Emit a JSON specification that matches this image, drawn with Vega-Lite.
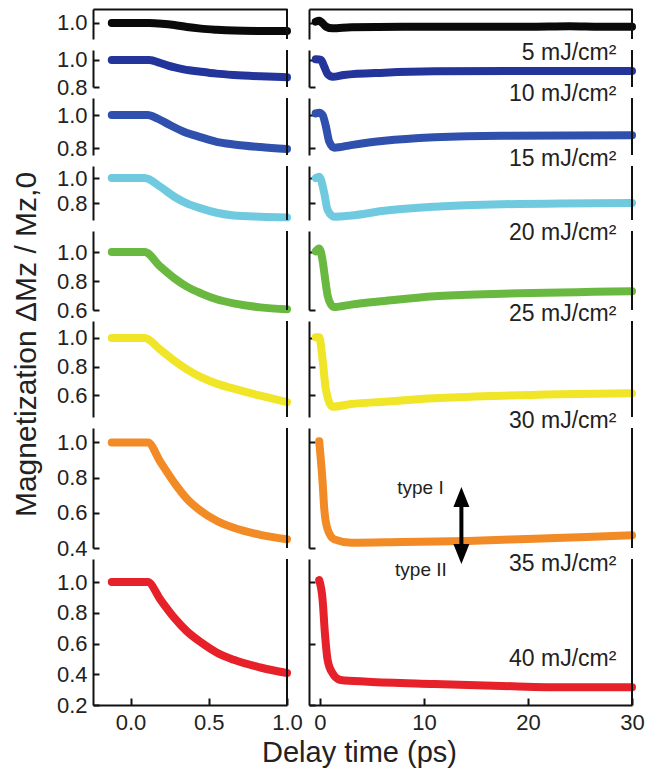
{
  "$schema": "https://vega.github.io/schema/vega-lite/v6.json",
  "padding": {"left": 10, "top": 8, "right": 5, "bottom": 5},
  "config": {
    "view": {"stroke": null},
    "font": "Liberation Sans",
    "axis": {
      "grid": false, "domainColor": "#111", "domainWidth": 2,
      "tickColor": "#111", "tickWidth": 2, "tickSize": -6,
      "labelFont": "Liberation Sans", "labelFontSize": 22, "labelColor": "#222",
      "labelFlush": false, "labelOverlap": false,
      "titleFont": "Liberation Sans", "titleFontWeight": "normal", "titleColor": "#222", "titleFontSize": 30
    },
    "line": {"strokeWidth": 8, "strokeCap": "round", "strokeJoin": "round", "interpolate": "monotone"}
  },
  "data": {"values": [
    {"fluence": 5, "range": "short", "time": -0.12, "m": 1.0},
    {"fluence": 5, "range": "short", "time": 0.0, "m": 1.0},
    {"fluence": 5, "range": "short", "time": 0.12, "m": 1.0},
    {"fluence": 5, "range": "short", "time": 0.2, "m": 0.995},
    {"fluence": 5, "range": "short", "time": 0.28, "m": 0.985},
    {"fluence": 5, "range": "short", "time": 0.36, "m": 0.97},
    {"fluence": 5, "range": "short", "time": 0.45, "m": 0.958},
    {"fluence": 5, "range": "short", "time": 0.55, "m": 0.95},
    {"fluence": 5, "range": "short", "time": 0.66, "m": 0.944},
    {"fluence": 5, "range": "short", "time": 0.83, "m": 0.941},
    {"fluence": 5, "range": "short", "time": 1.0, "m": 0.94},
    {"fluence": 10, "range": "short", "time": -0.12, "m": 1.0},
    {"fluence": 10, "range": "short", "time": 0.0, "m": 1.0},
    {"fluence": 10, "range": "short", "time": 0.12, "m": 1.0},
    {"fluence": 10, "range": "short", "time": 0.19, "m": 0.978},
    {"fluence": 10, "range": "short", "time": 0.24, "m": 0.958},
    {"fluence": 10, "range": "short", "time": 0.34, "m": 0.931},
    {"fluence": 10, "range": "short", "time": 0.45, "m": 0.913},
    {"fluence": 10, "range": "short", "time": 0.55, "m": 0.899},
    {"fluence": 10, "range": "short", "time": 0.66, "m": 0.889},
    {"fluence": 10, "range": "short", "time": 0.83, "m": 0.879},
    {"fluence": 10, "range": "short", "time": 1.0, "m": 0.872},
    {"fluence": 15, "range": "short", "time": -0.12, "m": 1.0},
    {"fluence": 15, "range": "short", "time": 0.0, "m": 1.0},
    {"fluence": 15, "range": "short", "time": 0.11, "m": 1.0},
    {"fluence": 15, "range": "short", "time": 0.17, "m": 0.98},
    {"fluence": 15, "range": "short", "time": 0.24, "m": 0.945},
    {"fluence": 15, "range": "short", "time": 0.34, "m": 0.899},
    {"fluence": 15, "range": "short", "time": 0.45, "m": 0.865},
    {"fluence": 15, "range": "short", "time": 0.55, "m": 0.838},
    {"fluence": 15, "range": "short", "time": 0.66, "m": 0.822},
    {"fluence": 15, "range": "short", "time": 0.83, "m": 0.806},
    {"fluence": 15, "range": "short", "time": 1.0, "m": 0.794},
    {"fluence": 20, "range": "short", "time": -0.12, "m": 1.0},
    {"fluence": 20, "range": "short", "time": 0.0, "m": 1.0},
    {"fluence": 20, "range": "short", "time": 0.09, "m": 1.0},
    {"fluence": 20, "range": "short", "time": 0.19, "m": 0.93},
    {"fluence": 20, "range": "short", "time": 0.28, "m": 0.85},
    {"fluence": 20, "range": "short", "time": 0.36, "m": 0.797},
    {"fluence": 20, "range": "short", "time": 0.45, "m": 0.757},
    {"fluence": 20, "range": "short", "time": 0.55, "m": 0.722},
    {"fluence": 20, "range": "short", "time": 0.66, "m": 0.7},
    {"fluence": 20, "range": "short", "time": 0.83, "m": 0.69},
    {"fluence": 20, "range": "short", "time": 1.0, "m": 0.685},
    {"fluence": 25, "range": "short", "time": -0.12, "m": 1.0},
    {"fluence": 25, "range": "short", "time": 0.0, "m": 1.0},
    {"fluence": 25, "range": "short", "time": 0.09, "m": 1.0},
    {"fluence": 25, "range": "short", "time": 0.19, "m": 0.9},
    {"fluence": 25, "range": "short", "time": 0.28, "m": 0.819},
    {"fluence": 25, "range": "short", "time": 0.36, "m": 0.761},
    {"fluence": 25, "range": "short", "time": 0.45, "m": 0.715},
    {"fluence": 25, "range": "short", "time": 0.55, "m": 0.674},
    {"fluence": 25, "range": "short", "time": 0.66, "m": 0.646},
    {"fluence": 25, "range": "short", "time": 0.83, "m": 0.618},
    {"fluence": 25, "range": "short", "time": 1.0, "m": 0.605},
    {"fluence": 30, "range": "short", "time": -0.12, "m": 1.0},
    {"fluence": 30, "range": "short", "time": 0.0, "m": 1.0},
    {"fluence": 30, "range": "short", "time": 0.09, "m": 1.0},
    {"fluence": 30, "range": "short", "time": 0.19, "m": 0.918},
    {"fluence": 30, "range": "short", "time": 0.28, "m": 0.84},
    {"fluence": 30, "range": "short", "time": 0.36, "m": 0.78},
    {"fluence": 30, "range": "short", "time": 0.45, "m": 0.725},
    {"fluence": 30, "range": "short", "time": 0.55, "m": 0.68},
    {"fluence": 30, "range": "short", "time": 0.66, "m": 0.645},
    {"fluence": 30, "range": "short", "time": 0.83, "m": 0.595},
    {"fluence": 30, "range": "short", "time": 1.0, "m": 0.55},
    {"fluence": 35, "range": "short", "time": -0.12, "m": 1.0},
    {"fluence": 35, "range": "short", "time": 0.0, "m": 1.0},
    {"fluence": 35, "range": "short", "time": 0.11, "m": 1.0},
    {"fluence": 35, "range": "short", "time": 0.19, "m": 0.89},
    {"fluence": 35, "range": "short", "time": 0.28, "m": 0.77},
    {"fluence": 35, "range": "short", "time": 0.36, "m": 0.68},
    {"fluence": 35, "range": "short", "time": 0.45, "m": 0.61},
    {"fluence": 35, "range": "short", "time": 0.55, "m": 0.555},
    {"fluence": 35, "range": "short", "time": 0.66, "m": 0.515},
    {"fluence": 35, "range": "short", "time": 0.83, "m": 0.475},
    {"fluence": 35, "range": "short", "time": 1.0, "m": 0.45},
    {"fluence": 40, "range": "short", "time": -0.12, "m": 1.0},
    {"fluence": 40, "range": "short", "time": 0.0, "m": 1.0},
    {"fluence": 40, "range": "short", "time": 0.11, "m": 1.0},
    {"fluence": 40, "range": "short", "time": 0.19, "m": 0.887},
    {"fluence": 40, "range": "short", "time": 0.28, "m": 0.767},
    {"fluence": 40, "range": "short", "time": 0.36, "m": 0.68},
    {"fluence": 40, "range": "short", "time": 0.45, "m": 0.608},
    {"fluence": 40, "range": "short", "time": 0.55, "m": 0.542},
    {"fluence": 40, "range": "short", "time": 0.66, "m": 0.494},
    {"fluence": 40, "range": "short", "time": 0.83, "m": 0.444},
    {"fluence": 40, "range": "short", "time": 1.0, "m": 0.408},

    {"fluence": 5, "range": "long", "time": -0.4, "m": 1.01},
    {"fluence": 5, "range": "long", "time": -0.07, "m": 1.017},
    {"fluence": 5, "range": "long", "time": 0.58, "m": 0.973},
    {"fluence": 5, "range": "long", "time": 1.2, "m": 0.96},
    {"fluence": 5, "range": "long", "time": 3.0, "m": 0.968},
    {"fluence": 5, "range": "long", "time": 8.0, "m": 0.972},
    {"fluence": 5, "range": "long", "time": 20.0, "m": 0.972},
    {"fluence": 5, "range": "long", "time": 24.0, "m": 0.976},
    {"fluence": 5, "range": "long", "time": 27.0, "m": 0.972},
    {"fluence": 5, "range": "long", "time": 30.0, "m": 0.972},
    {"fluence": 10, "range": "long", "time": -0.4, "m": 1.005},
    {"fluence": 10, "range": "long", "time": 0.1, "m": 1.0},
    {"fluence": 10, "range": "long", "time": 0.42, "m": 0.95},
    {"fluence": 10, "range": "long", "time": 0.74, "m": 0.896},
    {"fluence": 10, "range": "long", "time": 1.22, "m": 0.876},
    {"fluence": 10, "range": "long", "time": 2.3, "m": 0.889},
    {"fluence": 10, "range": "long", "time": 6.2, "m": 0.906},
    {"fluence": 10, "range": "long", "time": 11.0, "m": 0.916},
    {"fluence": 10, "range": "long", "time": 20.6, "m": 0.919},
    {"fluence": 10, "range": "long", "time": 30.0, "m": 0.919},
    {"fluence": 15, "range": "long", "time": -0.4, "m": 1.01},
    {"fluence": 15, "range": "long", "time": -0.07, "m": 1.014},
    {"fluence": 15, "range": "long", "time": 0.26, "m": 1.0},
    {"fluence": 15, "range": "long", "time": 0.58, "m": 0.929},
    {"fluence": 15, "range": "long", "time": 0.9, "m": 0.838},
    {"fluence": 15, "range": "long", "time": 1.38, "m": 0.802},
    {"fluence": 15, "range": "long", "time": 3.0, "m": 0.818},
    {"fluence": 15, "range": "long", "time": 6.2, "m": 0.844},
    {"fluence": 15, "range": "long", "time": 11.0, "m": 0.865},
    {"fluence": 15, "range": "long", "time": 17.5, "m": 0.875},
    {"fluence": 15, "range": "long", "time": 30.0, "m": 0.877},
    {"fluence": 20, "range": "long", "time": -0.4, "m": 1.0},
    {"fluence": 20, "range": "long", "time": -0.07, "m": 1.01},
    {"fluence": 20, "range": "long", "time": 0.42, "m": 0.877},
    {"fluence": 20, "range": "long", "time": 0.74, "m": 0.744},
    {"fluence": 20, "range": "long", "time": 1.38, "m": 0.69},
    {"fluence": 20, "range": "long", "time": 3.0, "m": 0.7},
    {"fluence": 20, "range": "long", "time": 6.2, "m": 0.738},
    {"fluence": 20, "range": "long", "time": 11.0, "m": 0.77},
    {"fluence": 20, "range": "long", "time": 17.5, "m": 0.79},
    {"fluence": 20, "range": "long", "time": 30.0, "m": 0.8},
    {"fluence": 25, "range": "long", "time": -0.4, "m": 1.005},
    {"fluence": 25, "range": "long", "time": -0.07, "m": 1.025},
    {"fluence": 25, "range": "long", "time": 0.26, "m": 0.94},
    {"fluence": 25, "range": "long", "time": 0.48, "m": 0.825},
    {"fluence": 25, "range": "long", "time": 0.74, "m": 0.7},
    {"fluence": 25, "range": "long", "time": 1.06, "m": 0.637},
    {"fluence": 25, "range": "long", "time": 1.38, "m": 0.62},
    {"fluence": 25, "range": "long", "time": 3.0, "m": 0.637},
    {"fluence": 25, "range": "long", "time": 6.2, "m": 0.662},
    {"fluence": 25, "range": "long", "time": 11.0, "m": 0.695},
    {"fluence": 25, "range": "long", "time": 17.5, "m": 0.712},
    {"fluence": 25, "range": "long", "time": 30.0, "m": 0.73},
    {"fluence": 30, "range": "long", "time": -0.4, "m": 1.005},
    {"fluence": 30, "range": "long", "time": -0.07, "m": 1.005},
    {"fluence": 30, "range": "long", "time": 0.26, "m": 0.846},
    {"fluence": 30, "range": "long", "time": 0.58, "m": 0.635},
    {"fluence": 30, "range": "long", "time": 1.22, "m": 0.518},
    {"fluence": 30, "range": "long", "time": 3.0, "m": 0.537},
    {"fluence": 30, "range": "long", "time": 6.2, "m": 0.553},
    {"fluence": 30, "range": "long", "time": 11.0, "m": 0.577},
    {"fluence": 30, "range": "long", "time": 17.5, "m": 0.595},
    {"fluence": 30, "range": "long", "time": 30.0, "m": 0.612},
    {"fluence": 35, "range": "long", "time": -0.07, "m": 1.007},
    {"fluence": 35, "range": "long", "time": 0.26, "m": 0.77},
    {"fluence": 35, "range": "long", "time": 0.42, "m": 0.62},
    {"fluence": 35, "range": "long", "time": 0.74, "m": 0.506},
    {"fluence": 35, "range": "long", "time": 1.38, "m": 0.449},
    {"fluence": 35, "range": "long", "time": 3.0, "m": 0.43},
    {"fluence": 35, "range": "long", "time": 7.8, "m": 0.434},
    {"fluence": 35, "range": "long", "time": 14.2, "m": 0.44},
    {"fluence": 35, "range": "long", "time": 20.6, "m": 0.453},
    {"fluence": 35, "range": "long", "time": 30.0, "m": 0.472},
    {"fluence": 40, "range": "long", "time": -0.07, "m": 1.013},
    {"fluence": 40, "range": "long", "time": 0.26, "m": 0.883},
    {"fluence": 40, "range": "long", "time": 0.48, "m": 0.666},
    {"fluence": 40, "range": "long", "time": 0.74, "m": 0.493},
    {"fluence": 40, "range": "long", "time": 1.22, "m": 0.406},
    {"fluence": 40, "range": "long", "time": 2.0, "m": 0.363},
    {"fluence": 40, "range": "long", "time": 4.6, "m": 0.352},
    {"fluence": 40, "range": "long", "time": 11.0, "m": 0.337},
    {"fluence": 40, "range": "long", "time": 17.5, "m": 0.324},
    {"fluence": 40, "range": "long", "time": 23.9, "m": 0.315},
    {"fluence": 40, "range": "long", "time": 30.0, "m": 0.315}
  ]},
  "columns": 2,
  "bounds": "flush",
  "spacing": {"row": 11, "column": 22},
  "concat": [
    {
      "width": 194, "height": 30,
      "layer": [
        {"transform": [{"filter": "datum.fluence == 5 && datum.range == 'short'"}],
         "mark": {"type": "line", "color": "#0a0a0a"},
         "encoding": {
           "x": {"field": "time", "type": "quantitative", "scale": {"domain": [-0.24, 1.0], "nice": false, "zero": false}, "axis": {"orient": "top", "labels": false, "ticks": false, "title": null}},
           "y": {"field": "m", "type": "quantitative", "scale": {"domain": [0.881, 1.104], "nice": false, "zero": false}, "axis": {"values": [1.0], "format": ".1f", "labelPadding": 12, "title": null}}
         }},
        {"data": {"values": [{}]}, "mark": {"type": "rule", "color": "#111", "strokeWidth": 2}, "encoding": {"x": {"datum": 1.0}}}
      ]
    },
    {
      "width": 323, "height": 30,
      "layer": [
        {"transform": [{"filter": "datum.fluence == 5 && datum.range == 'long'"}],
         "mark": {"type": "line", "color": "#0a0a0a"},
         "encoding": {
           "x": {"field": "time", "type": "quantitative", "scale": {"domain": [-1.05, 30], "nice": false, "zero": false}, "axis": {"orient": "top", "labels": false, "ticks": false, "title": null}},
           "y": {"field": "m", "type": "quantitative", "scale": {"domain": [0.881, 1.104], "nice": false, "zero": false}, "axis": {"values": [1.0], "labels": false, "title": null}}
         }},
        {"data": {"values": [{}]}, "mark": {"type": "rule", "color": "#111", "strokeWidth": 2}, "encoding": {"x": {"datum": 30}}},
        {"data": {"values": [{}]}, "mark": {"type": "text", "align": "right", "baseline": "alphabetic", "fontSize": 23, "color": "#222", "text": "5 mJ/cm²"}, "encoding": {"x": {"datum": 28.5}, "y": {"datum": 0.726}}}
      ]
    },
    {
      "width": 194, "height": 37,
      "layer": [
        {"transform": [{"filter": "datum.fluence == 10 && datum.range == 'short'"}],
         "mark": {"type": "line", "color": "#23349b"},
         "encoding": {
           "x": {"field": "time", "type": "quantitative", "scale": {"domain": [-0.24, 1.0], "nice": false, "zero": false}, "axis": null},
           "y": {"field": "m", "type": "quantitative", "scale": {"domain": [0.8, 1.074], "nice": false, "zero": false}, "axis": {"values": [0.8, 1.0], "format": ".1f", "labelPadding": 12, "title": null}}
         }},
        {"data": {"values": [{}]}, "mark": {"type": "rule", "color": "#111", "strokeWidth": 2}, "encoding": {"x": {"datum": 1.0}}}
      ]
    },
    {
      "width": 323, "height": 37,
      "layer": [
        {"transform": [{"filter": "datum.fluence == 10 && datum.range == 'long'"}],
         "mark": {"type": "line", "color": "#23349b"},
         "encoding": {
           "x": {"field": "time", "type": "quantitative", "scale": {"domain": [-1.05, 30], "nice": false, "zero": false}, "axis": null},
           "y": {"field": "m", "type": "quantitative", "scale": {"domain": [0.8, 1.074], "nice": false, "zero": false}, "axis": {"values": [0.8, 1.0], "labels": false, "title": null}}
         }},
        {"data": {"values": [{}]}, "mark": {"type": "rule", "color": "#111", "strokeWidth": 2}, "encoding": {"x": {"datum": 30}}},
        {"data": {"values": [{}]}, "mark": {"type": "text", "align": "right", "baseline": "alphabetic", "fontSize": 23, "color": "#222", "text": "10 mJ/cm²"}, "encoding": {"x": {"datum": 28.5}, "y": {"datum": 0.696}}}
      ]
    },
    {
      "width": 194, "height": 57,
      "layer": [
        {"transform": [{"filter": "datum.fluence == 15 && datum.range == 'short'"}],
         "mark": {"type": "line", "color": "#2f50ad"},
         "encoding": {
           "x": {"field": "time", "type": "quantitative", "scale": {"domain": [-0.24, 1.0], "nice": false, "zero": false}, "axis": null},
           "y": {"field": "m", "type": "quantitative", "scale": {"domain": [0.758, 1.103], "nice": false, "zero": false}, "axis": {"values": [0.8, 1.0], "format": ".1f", "labelPadding": 12, "title": null}}
         }},
        {"data": {"values": [{}]}, "mark": {"type": "rule", "color": "#111", "strokeWidth": 2}, "encoding": {"x": {"datum": 1.0}}}
      ]
    },
    {
      "width": 323, "height": 57,
      "layer": [
        {"transform": [{"filter": "datum.fluence == 15 && datum.range == 'long'"}],
         "mark": {"type": "line", "color": "#2f50ad"},
         "encoding": {
           "x": {"field": "time", "type": "quantitative", "scale": {"domain": [-1.05, 30], "nice": false, "zero": false}, "axis": null},
           "y": {"field": "m", "type": "quantitative", "scale": {"domain": [0.758, 1.103], "nice": false, "zero": false}, "axis": {"values": [0.8, 1.0], "labels": false, "title": null}}
         }},
        {"data": {"values": [{}]}, "mark": {"type": "rule", "color": "#111", "strokeWidth": 2}, "encoding": {"x": {"datum": 30}}},
        {"data": {"values": [{}]}, "mark": {"type": "text", "align": "right", "baseline": "alphabetic", "fontSize": 23, "color": "#222", "text": "15 mJ/cm²"}, "encoding": {"x": {"datum": 28.5}, "y": {"datum": 0.691}}}
      ]
    },
    {
      "width": 194, "height": 54,
      "layer": [
        {"transform": [{"filter": "datum.fluence == 20 && datum.range == 'short'"}],
         "mark": {"type": "line", "color": "#6fcae0"},
         "encoding": {
           "x": {"field": "time", "type": "quantitative", "scale": {"domain": [-0.24, 1.0], "nice": false, "zero": false}, "axis": null},
           "y": {"field": "m", "type": "quantitative", "scale": {"domain": [0.664, 1.096], "nice": false, "zero": false}, "axis": {"values": [0.8, 1.0], "format": ".1f", "labelPadding": 12, "title": null}}
         }},
        {"data": {"values": [{}]}, "mark": {"type": "rule", "color": "#111", "strokeWidth": 2}, "encoding": {"x": {"datum": 1.0}}}
      ]
    },
    {
      "width": 323, "height": 54,
      "layer": [
        {"transform": [{"filter": "datum.fluence == 20 && datum.range == 'long'"}],
         "mark": {"type": "line", "color": "#6fcae0"},
         "encoding": {
           "x": {"field": "time", "type": "quantitative", "scale": {"domain": [-1.05, 30], "nice": false, "zero": false}, "axis": null},
           "y": {"field": "m", "type": "quantitative", "scale": {"domain": [0.664, 1.096], "nice": false, "zero": false}, "axis": {"values": [0.8, 1.0], "labels": false, "title": null}}
         }},
        {"data": {"values": [{}]}, "mark": {"type": "rule", "color": "#111", "strokeWidth": 2}, "encoding": {"x": {"datum": 30}}},
        {"data": {"values": [{}]}, "mark": {"type": "text", "align": "right", "baseline": "alphabetic", "fontSize": 23, "color": "#222", "text": "20 mJ/cm²"}, "encoding": {"x": {"datum": 28.5}, "y": {"datum": 0.504}}}
      ]
    },
    {
      "width": 194, "height": 79,
      "layer": [
        {"transform": [{"filter": "datum.fluence == 25 && datum.range == 'short'"}],
         "mark": {"type": "line", "color": "#69b840"},
         "encoding": {
           "x": {"field": "time", "type": "quantitative", "scale": {"domain": [-0.24, 1.0], "nice": false, "zero": false}, "axis": null},
           "y": {"field": "m", "type": "quantitative", "scale": {"domain": [0.6, 1.145], "nice": false, "zero": false}, "axis": {"values": [0.6, 0.8, 1.0], "format": ".1f", "labelPadding": 12, "title": null}}
         }},
        {"data": {"values": [{}]}, "mark": {"type": "rule", "color": "#111", "strokeWidth": 2}, "encoding": {"x": {"datum": 1.0}}}
      ]
    },
    {
      "width": 323, "height": 79,
      "layer": [
        {"transform": [{"filter": "datum.fluence == 25 && datum.range == 'long'"}],
         "mark": {"type": "line", "color": "#69b840"},
         "encoding": {
           "x": {"field": "time", "type": "quantitative", "scale": {"domain": [-1.05, 30], "nice": false, "zero": false}, "axis": null},
           "y": {"field": "m", "type": "quantitative", "scale": {"domain": [0.6, 1.145], "nice": false, "zero": false}, "axis": {"values": [0.6, 0.8, 1.0], "labels": false, "title": null}}
         }},
        {"data": {"values": [{}]}, "mark": {"type": "rule", "color": "#111", "strokeWidth": 2}, "encoding": {"x": {"datum": 30}}},
        {"data": {"values": [{}]}, "mark": {"type": "text", "align": "right", "baseline": "alphabetic", "fontSize": 23, "color": "#222", "text": "25 mJ/cm²"}, "encoding": {"x": {"datum": 28.5}, "y": {"datum": 0.524}}}
      ]
    },
    {
      "width": 194, "height": 96,
      "layer": [
        {"transform": [{"filter": "datum.fluence == 30 && datum.range == 'short'"}],
         "mark": {"type": "line", "color": "#f0e526"},
         "encoding": {
           "x": {"field": "time", "type": "quantitative", "scale": {"domain": [-0.24, 1.0], "nice": false, "zero": false}, "axis": null},
           "y": {"field": "m", "type": "quantitative", "scale": {"domain": [0.446, 1.119], "nice": false, "zero": false},
                 "axis": {"values": [0.6, 0.8, 1.0], "format": ".1f", "labelPadding": 12,
                          "title": "Magnetization ΔMz / Mz,0", "titleX": -67, "titleY": 23, "titleAngle": 270,
                          "titleAlign": "center", "titleBaseline": "middle"}}
         }},
        {"data": {"values": [{}]}, "mark": {"type": "rule", "color": "#111", "strokeWidth": 2}, "encoding": {"x": {"datum": 1.0}}}
      ]
    },
    {
      "width": 323, "height": 96,
      "layer": [
        {"transform": [{"filter": "datum.fluence == 30 && datum.range == 'long'"}],
         "mark": {"type": "line", "color": "#f0e526"},
         "encoding": {
           "x": {"field": "time", "type": "quantitative", "scale": {"domain": [-1.05, 30], "nice": false, "zero": false}, "axis": null},
           "y": {"field": "m", "type": "quantitative", "scale": {"domain": [0.446, 1.119], "nice": false, "zero": false}, "axis": {"values": [0.6, 0.8, 1.0], "labels": false, "title": null}}
         }},
        {"data": {"values": [{}]}, "mark": {"type": "rule", "color": "#111", "strokeWidth": 2}, "encoding": {"x": {"datum": 30}}},
        {"data": {"values": [{}]}, "mark": {"type": "text", "align": "right", "baseline": "alphabetic", "fontSize": 23, "color": "#222", "text": "30 mJ/cm²"}, "encoding": {"x": {"datum": 28.5}, "y": {"datum": 0.368}}}
      ]
    },
    {
      "width": 194, "height": 120,
      "layer": [
        {"transform": [{"filter": "datum.fluence == 35 && datum.range == 'short'"}],
         "mark": {"type": "line", "color": "#f28a25"},
         "encoding": {
           "x": {"field": "time", "type": "quantitative", "scale": {"domain": [-0.24, 1.0], "nice": false, "zero": false}, "axis": null},
           "y": {"field": "m", "type": "quantitative", "scale": {"domain": [0.4, 1.082], "nice": false, "zero": false}, "axis": {"values": [0.4, 0.6, 0.8, 1.0], "format": ".1f", "labelPadding": 12, "title": null}}
         }},
        {"data": {"values": [{}]}, "mark": {"type": "rule", "color": "#111", "strokeWidth": 2}, "encoding": {"x": {"datum": 1.0}}}
      ]
    },
    {
      "width": 323, "height": 120,
      "layer": [
        {"transform": [{"filter": "datum.fluence == 35 && datum.range == 'long'"}],
         "mark": {"type": "line", "color": "#f28a25"},
         "encoding": {
           "x": {"field": "time", "type": "quantitative", "scale": {"domain": [-1.05, 30], "nice": false, "zero": false}, "axis": null},
           "y": {"field": "m", "type": "quantitative", "scale": {"domain": [0.4, 1.082], "nice": false, "zero": false}, "axis": {"values": [0.4, 0.6, 0.8, 1.0], "labels": false, "title": null}}
         }},
        {"data": {"values": [{}]}, "mark": {"type": "rule", "color": "#111", "strokeWidth": 2}, "encoding": {"x": {"datum": 30}}},
        {"data": {"values": [{}]}, "mark": {"type": "rule", "color": "#000", "strokeWidth": 4}, "encoding": {"x": {"datum": 13.6}, "y": {"datum": 0.69}, "y2": {"datum": 0.366}}},
        {"data": {"values": [{}]}, "mark": {"type": "point", "filled": true, "opacity": 1, "color": "#000", "size": 400, "shape": "M0,-1L0.8,1L-0.8,1Z"}, "encoding": {"x": {"datum": 13.6}, "y": {"datum": 0.69}}},
        {"data": {"values": [{}]}, "mark": {"type": "point", "filled": true, "opacity": 1, "color": "#000", "size": 400, "shape": "M0,1L0.8,-1L-0.8,-1Z"}, "encoding": {"x": {"datum": 13.6}, "y": {"datum": 0.366}}},
        {"data": {"values": [{}]}, "mark": {"type": "text", "align": "right", "baseline": "alphabetic", "fontSize": 19, "color": "#222", "text": "type I"}, "encoding": {"x": {"datum": 11.9}, "y": {"datum": 0.707}}},
        {"data": {"values": [{}]}, "mark": {"type": "text", "align": "right", "baseline": "alphabetic", "fontSize": 19, "color": "#222", "text": "type II"}, "encoding": {"x": {"datum": 12.2}, "y": {"datum": 0.241}}},
        {"data": {"values": [{}]}, "mark": {"type": "text", "align": "right", "baseline": "alphabetic", "fontSize": 23, "color": "#222", "text": "35 mJ/cm²"}, "encoding": {"x": {"datum": 28.5}, "y": {"datum": 0.269}}}
      ]
    },
    {
      "width": 194, "height": 146,
      "layer": [
        {"transform": [{"filter": "datum.fluence == 40 && datum.range == 'short'"}],
         "mark": {"type": "line", "color": "#e62129"},
         "encoding": {
           "x": {"field": "time", "type": "quantitative", "scale": {"domain": [-0.24, 1.0], "nice": false, "zero": false},
                 "axis": {"values": [0, 0.5, 1.0], "format": ".1f", "tickSize": -7, "labelPadding": 14, "title": null}},
           "y": {"field": "m", "type": "quantitative", "scale": {"domain": [0.2, 1.15], "nice": false, "zero": false}, "axis": {"values": [0.2, 0.4, 0.6, 0.8, 1.0], "format": ".1f", "labelPadding": 12, "title": null}}
         }},
        {"data": {"values": [{}]}, "mark": {"type": "rule", "color": "#111", "strokeWidth": 2}, "encoding": {"x": {"datum": 1.0}}}
      ]
    },
    {
      "width": 323, "height": 146,
      "layer": [
        {"transform": [{"filter": "datum.fluence == 40 && datum.range == 'long'"}],
         "mark": {"type": "line", "color": "#e62129"},
         "encoding": {
           "x": {"field": "time", "type": "quantitative", "scale": {"domain": [-1.05, 30], "nice": false, "zero": false},
                 "axis": {"values": [0, 10, 20, 30], "format": "d", "tickSize": -7, "labelPadding": 14,
                          "title": "Delay time (ps)", "titleFontSize": 29, "titleX": 50, "titleY": 56, "titleAlign": "center", "titleBaseline": "alphabetic"}},
           "y": {"field": "m", "type": "quantitative", "scale": {"domain": [0.2, 1.15], "nice": false, "zero": false}, "axis": {"values": [0.2, 0.4, 0.6, 0.8, 1.0], "labels": false, "title": null}}
         }},
        {"data": {"values": [{}]}, "mark": {"type": "rule", "color": "#111", "strokeWidth": 2}, "encoding": {"x": {"datum": 30}}},
        {"data": {"values": [{}]}, "mark": {"type": "text", "align": "right", "baseline": "alphabetic", "fontSize": 23, "color": "#222", "text": "40 mJ/cm²"}, "encoding": {"x": {"datum": 28.5}, "y": {"datum": 0.454}}}
      ]
    }
  ]
}
